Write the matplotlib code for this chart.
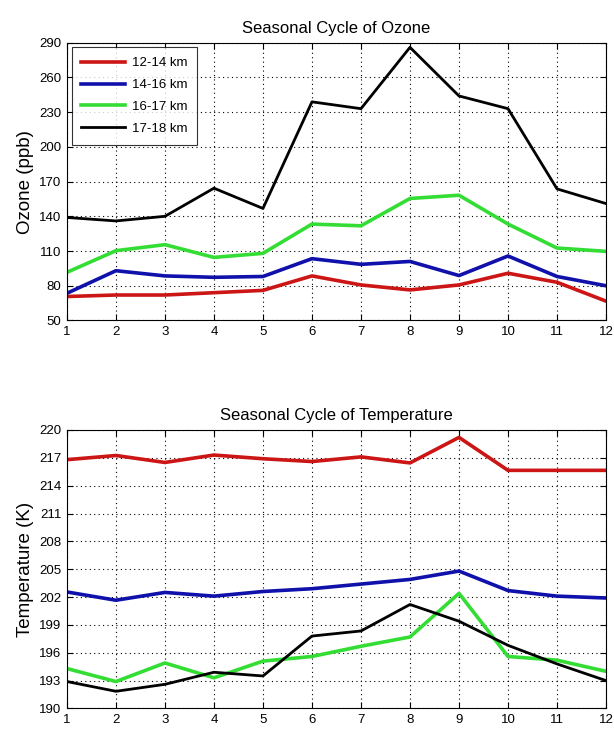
import matplotlib
matplotlib.use("Agg")
import matplotlib.pyplot as plt

plt.rcParams['font.family'] = ['Liberation Sans', 'DejaVu Sans']

months = list(range(1, 13))
labels = ['12-14 km', '14-16 km', '16-17 km', '17-18 km']
colors = ['#cc1515', '#1010aa', '#33dd33', '#000000']
widths = [2.6, 2.6, 2.6, 2.0]

ozone_12_14 = [70.7, 72, 72, 74, 76, 88.5, 80.7, 76.4, 80.7, 90.8, 83, 66.7]
ozone_14_16 = [73.5, 93, 88.5, 87.3, 88, 103.4, 98.5, 101, 88.8, 105.7, 88, 80]
ozone_16_17 = [91.6, 110.3, 115.5, 104.5, 108, 133.3, 131.8, 155.4, 158.2, 133.3, 112.6, 109.7]
ozone_17_18 = [139, 136, 140, 164.3, 146.8, 238.9, 233, 286, 244, 233, 163.7, 151]

temp_12_14 = [216.8, 217.25, 216.5, 217.3, 216.9, 216.6, 217.1, 216.45, 219.2, 215.65, 215.65, 215.65]
temp_14_16 = [202.55, 201.66, 202.5, 202.1, 202.6, 202.9, 203.4, 203.9, 204.8, 202.7, 202.1, 201.9]
temp_16_17 = [194.3, 192.9, 194.9, 193.3, 195.1, 195.6, 196.7, 197.7, 202.4, 195.6, 195.2, 194.0]
temp_17_18 = [192.9, 191.85, 192.6, 193.9, 193.5, 197.8, 198.35, 201.2, 199.4, 196.8, 194.8, 193.0]

ozone = [ozone_12_14, ozone_14_16, ozone_16_17, ozone_17_18]
temp = [temp_12_14, temp_14_16, temp_16_17, temp_17_18]

fig = plt.figure(figsize=(6.14, 7.3), dpi=100)
ax1 = fig.add_axes([0.109, 0.561, 0.878, 0.3805])
ax2 = fig.add_axes([0.109, 0.0295, 0.878, 0.3815])

def style(ax, yticks):
    ax.set_xlim(1, 12)
    ax.set_xticks(months)
    ax.set_ylim(yticks[0], yticks[-1])
    ax.set_yticks(yticks)
    ax.grid(True, color='black', linestyle=(0, (1, 3)), linewidth=0.8)
    ax.tick_params(direction='in', labelsize=9.5, length=4, top=True, right=True,
                   width=0.8, pad=4)
    for s in ax.spines.values():
        s.set_linewidth(0.8)

for vals, lab, c, w in zip(ozone, labels, colors, widths):
    ax1.plot(months, vals, color=c, lw=w, label=lab)
style(ax1, list(range(50, 291, 30)))
ax1.set_title('Seasonal Cycle of Ozone', fontsize=12, pad=7)
ax1.set_ylabel('Ozone (ppb)', fontsize=13.5, labelpad=4)
leg = ax1.legend(loc='upper left', fontsize=9.5, frameon=True, fancybox=False,
                 edgecolor='black', handlelength=3.3, borderaxespad=0.35,
                 labelspacing=0.72, borderpad=0.75, handletextpad=0.5)
leg.get_frame().set_linewidth(0.8)

for vals, lab, c, w in zip(temp, labels, colors, widths):
    ax2.plot(months, vals, color=c, lw=w, label=lab)
style(ax2, list(range(190, 221, 3)))
ax2.set_title('Seasonal Cycle of Temperature', fontsize=12, pad=7)
ax2.set_ylabel('Temperature (K)', fontsize=13.5, labelpad=4)

fig.savefig('out.png', dpi=100)
